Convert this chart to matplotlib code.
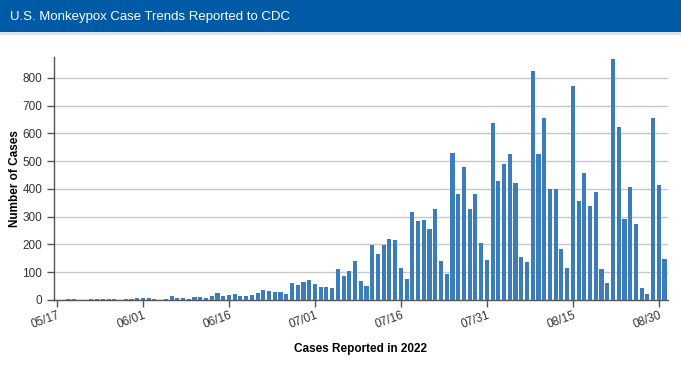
#!/usr/bin/env python3

import pandas as pd
import matplotlib
matplotlib.use('Agg')
import matplotlib.pyplot as plt
import matplotlib.dates as mdates
from matplotlib.patches import Rectangle

plt.rcParams['font.family'] = ['Liberation Sans', 'DejaVu Sans']

# Daily case counts, 05/17 through 08/31 2022
start_date = '2022-05-17'
end_date = '2022-08-31'
cases = [
    0, 0, 2, 3, 0, 0, 2, 3, 2, 3,
    5, 0, 3, 4, 6, 8, 6, 4, 0, 3,
    15, 7, 6, 5, 12, 11, 9, 16, 24, 16,
    19, 20, 15, 14, 18, 26, 35, 33, 30, 28,
    20, 60, 53, 66, 72, 59, 47, 47, 43, 112,
    88, 105, 139, 70, 50, 198, 165, 198, 221, 217,
    114, 77, 317, 285, 287, 257, 328, 139, 95, 528,
    383, 478, 328, 383, 204, 143, 638, 428, 491, 525,
    422, 156, 138, 824, 525, 655, 400, 400, 183, 115,
    769, 357, 456, 340, 389, 113, 60, 868, 622, 292,
    406, 273, 43, 20, 655, 414, 147,
]
tick_dates = ['2022-05-17', '2022-06-01', '2022-06-16', '2022-07-01',
              '2022-07-16', '2022-07-31', '2022-08-15', '2022-08-30']
y_ticks = [0, 100, 200, 300, 400, 500, 600, 700, 800]

title = 'U.S. Monkeypox Case Trends Reported to CDC'
x_label = 'Cases Reported in 2022'
y_label = 'Number of Cases'

bar_color = '#3A7DBA'
header_color = '#005AA6'
text_color = '#333333'

W, H = 681, 365
fig = plt.figure(figsize=(W / 100, H / 100), dpi=100)

# Blue header band
fig.patches.append(Rectangle((0, 1 - 32 / H), 1, 32 / H, transform=fig.transFigure,
                             facecolor=header_color, edgecolor='none', zorder=0))
fig.patches.append(Rectangle((0, 1 - 35 / H), 1, 3 / H, transform=fig.transFigure,
                             facecolor='#dde3ea', edgecolor='none', zorder=0))
fig.text(10 / W, 1 - 17 / H, title, color='white', fontsize=9.5,
         ha='left', va='center')

ax = fig.add_axes([54 / W, 1 - 300 / H, (668 - 54) / W, (300 - 57) / H])

dates = pd.date_range(start_date, end_date, freq='D')
ax.bar(dates, cases, width=0.72, color=bar_color, zorder=3)

ax.set_ylim(0, 875)
ax.set_xlim(pd.Timestamp(start_date) - pd.Timedelta(days=0.52),
            pd.Timestamp(end_date) + pd.Timedelta(days=0.6))
ax.set_yticks(y_ticks)
ax.yaxis.grid(True, color='#c8c8c8', linewidth=1, zorder=0)
ax.set_axisbelow(True)

ticks = pd.to_datetime(tick_dates)
ax.set_xticks(ticks)
ax.xaxis.set_major_formatter(mdates.DateFormatter('%m/%d'))
plt.setp(ax.xaxis.get_majorticklabels(), rotation=20, ha='right',
         rotation_mode='anchor')

for side in ['top', 'right']:
    ax.spines[side].set_visible(False)
for side in ['left', 'bottom']:
    ax.spines[side].set_color('#555555')
    ax.spines[side].set_linewidth(1)

ax.tick_params(axis='both', colors='#555555', labelcolor=text_color,
               labelsize=8.5, length=5, width=1)
ax.tick_params(axis='x', pad=2)

ax.set_ylabel(y_label, fontsize=8.5, fontweight='bold', color='black')
ax.set_xlabel(x_label, fontsize=8.5, fontweight='bold', color='black')
ax.yaxis.set_label_coords(-39 / 614, 0.5)
ax.xaxis.set_label_coords(0.5, -49 / 243)
ax.yaxis.label.set_va('center')
ax.xaxis.label.set_va('center')

plt.savefig('out.png', dpi=100)
